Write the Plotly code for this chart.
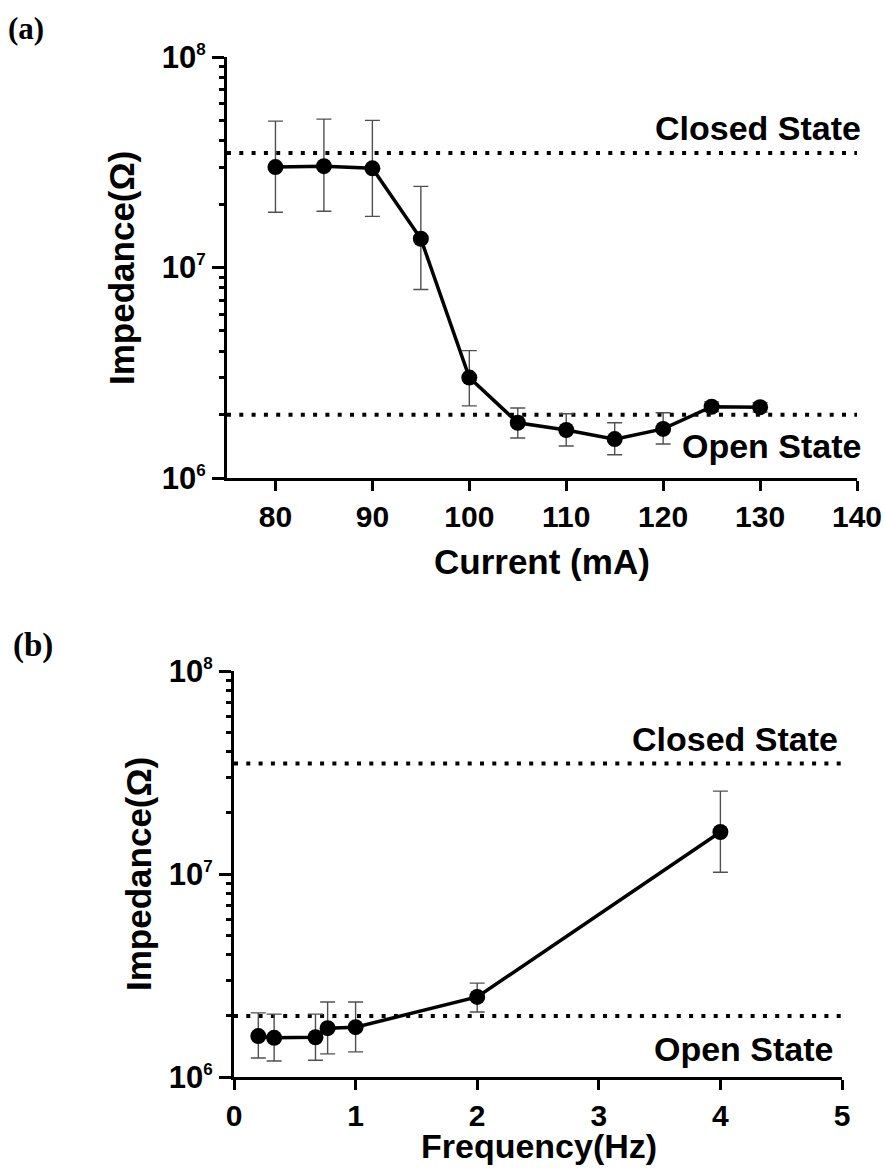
import math
import plotly.graph_objects as go

W, H = 885, 1169

# ---------------- data ----------------
current_ma = [80, 85, 90, 95, 100, 105, 110, 115, 120, 125, 130]
impedance_a = [3.0e7, 3.03e7, 2.96e7, 1.37e7, 3.0e6, 1.83e6, 1.69e6, 1.53e6, 1.71e6, 2.18e6, 2.17e6]
upper_a = [4.96e7, 5.07e7, 5.0e7, 2.43e7, 4.03e6, 2.15e6, 2.02e6, 1.83e6, 2.04e6, 2.3e6, 2.28e6]
lower_a = [1.83e7, 1.85e7, 1.75e7, 7.86e6, 2.2e6, 1.55e6, 1.42e6, 1.29e6, 1.45e6, 2.07e6, 2.06e6]

freq_hz = [0.2, 0.33, 0.67, 0.77, 1, 2, 4]
impedance_b = [1.59e6, 1.56e6, 1.57e6, 1.74e6, 1.76e6, 2.48e6, 1.61e7]
upper_b = [2.07e6, 2.04e6, 2.04e6, 2.34e6, 2.34e6, 2.9e6, 2.56e7]
lower_b = [1.24e6, 1.2e6, 1.21e6, 1.3e6, 1.33e6, 2.09e6, 1.02e7]

closed_state = 3.5e7
open_state = 2.0e6

x_ticks_a = [80, 90, 100, 110, 120, 130, 140]
x_range_a = [75, 140]
x_ticks_b = [0, 1, 2, 3, 4, 5]
x_range_b = [0, 5]
y_major = [1e6, 1e7, 1e8]
y_major_text = ['10<sup><span style="font-size:17px">6</span></sup>',
                '10<sup><span style="font-size:17px">7</span></sup>',
                '10<sup><span style="font-size:17px">8</span></sup>']
y_minor = [m * 10 ** e for e in (6, 7) for m in range(2, 10)]

# ---------------- styling ----------------
FONT = "Liberation Sans, Arial, Helvetica, sans-serif"
SERIF = "Liberation Serif, Times New Roman, serif"
ERR_COLOR = "#505050"

fig = go.Figure()


def add_panel(xs, ys, up, lo, xr, xa, ya):
    for level in (closed_state, open_state):
        fig.add_trace(go.Scatter(
            x=xr, y=[level, level], mode="lines", xaxis=xa, yaxis=ya,
            line=dict(color="black", width=4, dash="4px,8.3px"),
            hoverinfo="skip", showlegend=False))
    plus = [u - v for u, v in zip(up, ys)]
    minus = [v - l for v, l in zip(ys, lo)]
    fig.add_trace(go.Scatter(
        x=xs, y=ys, mode="lines+markers", xaxis=xa, yaxis=ya,
        line=dict(color="black", width=3.5),
        marker=dict(color="black", size=16),
        error_y=dict(type="data", symmetric=False, array=plus, arrayminus=minus,
                     color=ERR_COLOR, thickness=1.4, width=7.5),
        showlegend=False))


add_panel(current_ma, impedance_a, upper_a, lower_a, x_range_a, "x", "y")
add_panel(freq_hz, impedance_b, upper_b, lower_b, x_range_b, "x2", "y2")

xcommon = dict(showline=True, linewidth=3, linecolor="black", ticks="outside",
               ticklen=10, tickwidth=3, tickcolor="black", showgrid=False,
               zeroline=False, automargin=False,
               tickfont=dict(family=FONT, size=30, color="black", weight="bold"))
ycommon = dict(type="log", range=[6, 8], showline=True, linewidth=3, linecolor="black",
               ticks="outside", ticklen=12, tickwidth=3, tickcolor="black",
               showgrid=False, zeroline=False, automargin=False,
               tickvals=y_major, ticktext=y_major_text,
               tickfont=dict(family=FONT, size=31, color="black", weight="bold"),
               minor=dict(tickvals=y_minor, ticks="outside", ticklen=5, tickwidth=3,
                          tickcolor="black", showgrid=False))

fig.update_layout(
    width=W, height=H, margin=dict(l=0, r=0, t=0, b=0, autoexpand=False),
    paper_bgcolor="white", plot_bgcolor="white", showlegend=False,
    xaxis=dict(domain=[227 / W, 857 / W], range=x_range_a, tickvals=x_ticks_a,
               anchor="y", **xcommon),
    yaxis=dict(domain=[1 - 478 / H, 1 - 57 / H], anchor="x", **ycommon),
    xaxis2=dict(domain=[234 / W, 842 / W], range=x_range_b, tickvals=x_ticks_b,
                anchor="y2", **xcommon),
    yaxis2=dict(domain=[1 - 1077 / H, 1 - 671 / H], anchor="x2", **ycommon),
)

tfont = dict(family=FONT, size=35, color="black", weight="bold")
afont = dict(family=FONT, size=34, color="black", weight="bold")
ann = []
# axis titles
ann.append(dict(text="Impedance(Ω)", xref="paper", yref="paper", x=122 / W, y=1 - 268 / H,
                textangle=-90, showarrow=False, font=tfont, xanchor="center", yanchor="middle"))
ann.append(dict(text="Impedance(Ω)", xref="paper", yref="paper", x=138 / W, y=1 - 874 / H,
                textangle=-90, showarrow=False, font=tfont, xanchor="center", yanchor="middle"))
ann.append(dict(text="Current (mA)", xref="paper", yref="paper", x=542 / W, y=1 - 561 / H,
                showarrow=False, font=tfont, xanchor="center", yanchor="middle"))
ann.append(dict(text="Frequency(Hz)", xref="paper", yref="paper", x=539 / W, y=1 - 1146 / H,
                showarrow=False, font=dict(family=FONT, size=34, color="black", weight="bold"),
                xanchor="center", yanchor="middle"))
# state labels
ann.append(dict(text="Closed State", xref="x", yref="y", x=x_range_a[1], y=math.log10(closed_state),
                xanchor="right", yanchor="middle", yshift=25, xshift=6, showarrow=False, font=afont))
ann.append(dict(text="Open State", xref="x", yref="y", x=x_range_a[1], y=math.log10(open_state),
                xanchor="right", yanchor="middle", yshift=-31, xshift=6, showarrow=False, font=afont))
ann.append(dict(text="Closed State", xref="x2", yref="y2", x=x_range_b[1], y=math.log10(closed_state),
                xanchor="right", yanchor="middle", yshift=25, xshift=-2, showarrow=False, font=afont))
ann.append(dict(text="Open State", xref="x2", yref="y2", x=x_range_b[1], y=math.log10(open_state),
                xanchor="right", yanchor="middle", yshift=-33, xshift=-7, showarrow=False, font=afont))
# panel letters
ann.append(dict(text="(a)", xref="paper", yref="paper", x=6 / W, y=1 - 9 / H, xanchor="left",
                yanchor="top", showarrow=False, font=dict(family=SERIF, size=31, color="black", weight="bold")))
ann.append(dict(text="(b)", xref="paper", yref="paper", x=11 / W, y=1 - 625 / H, xanchor="left",
                yanchor="top", showarrow=False, font=dict(family=SERIF, size=33, color="black", weight="bold")))
fig.update_layout(annotations=ann)

fig.write_html("out.html", config={"displayModeBar": False},
               post_script="document.body.style.margin='0px';")
